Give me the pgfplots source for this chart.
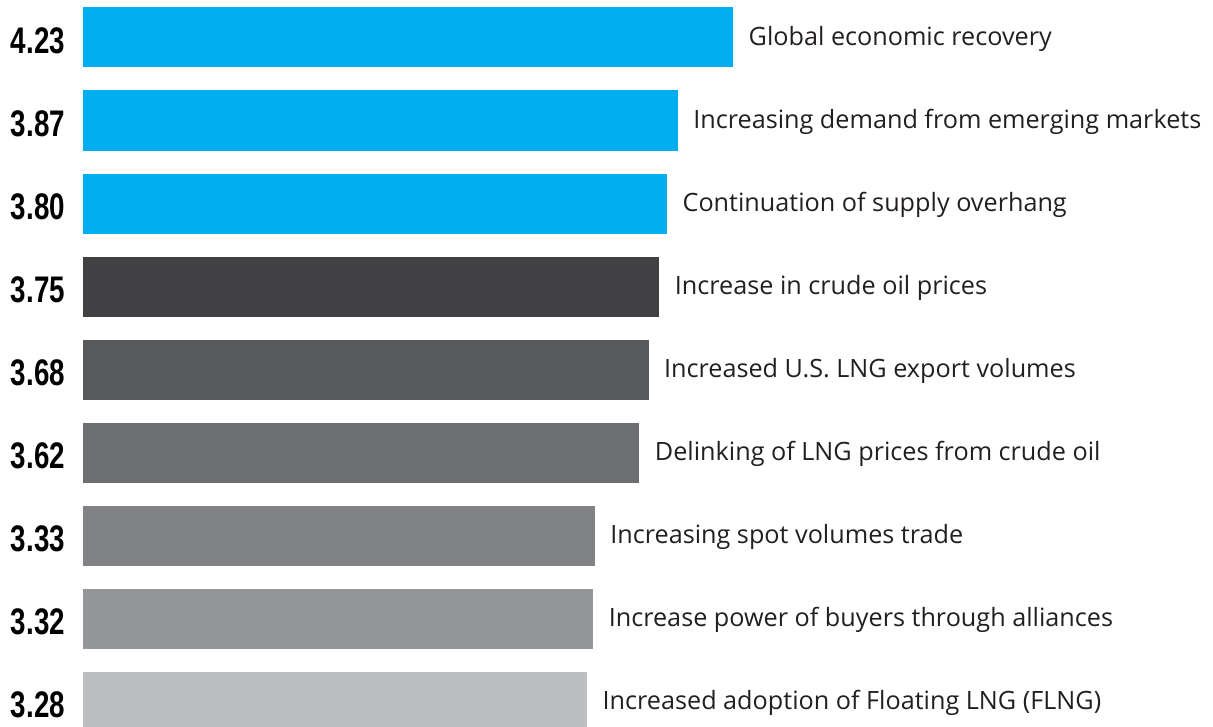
\documentclass[border=0pt]{standalone}
\usepackage{fontspec}
\setmainfont{Open Sans}
\newfontfamily\numfont[FakeStretch=0.75]{Liberation Sans}
\usepackage{pgfplots}
\pgfplotsset{compat=1.18}
\definecolor{cyanbar}{HTML}{00AEEF}
\definecolor{g4}{HTML}{414042}
\definecolor{g5}{HTML}{58595B}
\definecolor{g6}{HTML}{6D6E71}
\definecolor{g7}{HTML}{808285}
\definecolor{g8}{HTML}{939598}
\definecolor{g9}{HTML}{BCBEC0}
\definecolor{txt}{HTML}{231F20}
\begin{document}
\begin{tikzpicture}
\begin{axis}[
 at={(0,0)}, anchor=south west,
 scale only axis, width=1213pt, height=726pt,
 xmin=-0.5400, xmax=7.3520,
 ymin=-0.4518, ymax=8.2952, y dir=reverse,
 axis line style={draw=none}, major tick length=0pt,
 xtick=\empty,
 ytick={0,1,2,3,4,5,6,7,8},
 yticklabels={4.23,3.87,3.80,3.75,3.68,3.62,3.33,3.32,3.28},
 yticklabel style={font=\numfont\bfseries\fontsize{37}{37}\selectfont, anchor=center, xshift=38pt, yshift=-3pt, text=black},
 xbar, bar width=60pt, bar shift=0pt,
 clip=true,
 every node near coord/.append style={font=\fontsize{25.2}{30}\selectfont, text=txt, xshift=12pt, yshift=-1.5pt, anchor=west},
]
\addplot[fill=cyanbar, draw=none, nodes near coords={Global economic recovery}] coordinates {(4.23,0)};
\addplot[fill=cyanbar, draw=none, nodes near coords={Increasing demand from emerging markets}] coordinates {(3.87,1)};
\addplot[fill=cyanbar, draw=none, nodes near coords={Continuation of supply overhang}] coordinates {(3.80,2)};
\addplot[fill=g4, draw=none, nodes near coords={Increase in crude oil prices}] coordinates {(3.75,3)};
\addplot[fill=g5, draw=none, nodes near coords={Increased U.S. LNG export volumes}] coordinates {(3.68,4)};
\addplot[fill=g6, draw=none, nodes near coords={Delinking of LNG prices from crude oil}] coordinates {(3.62,5)};
\addplot[fill=g7, draw=none, nodes near coords={Increasing spot volumes trade}] coordinates {(3.33,6)};
\addplot[fill=g8, draw=none, nodes near coords={Increase power of buyers through alliances}] coordinates {(3.32,7)};
\addplot[fill=g9, draw=none, nodes near coords={Increased adoption of Floating LNG (FLNG)}] coordinates {(3.28,8)};
\end{axis}
\pgfresetboundingbox
\useasboundingbox (0,0) rectangle (1213pt,726pt);
\end{tikzpicture}
\end{document}
